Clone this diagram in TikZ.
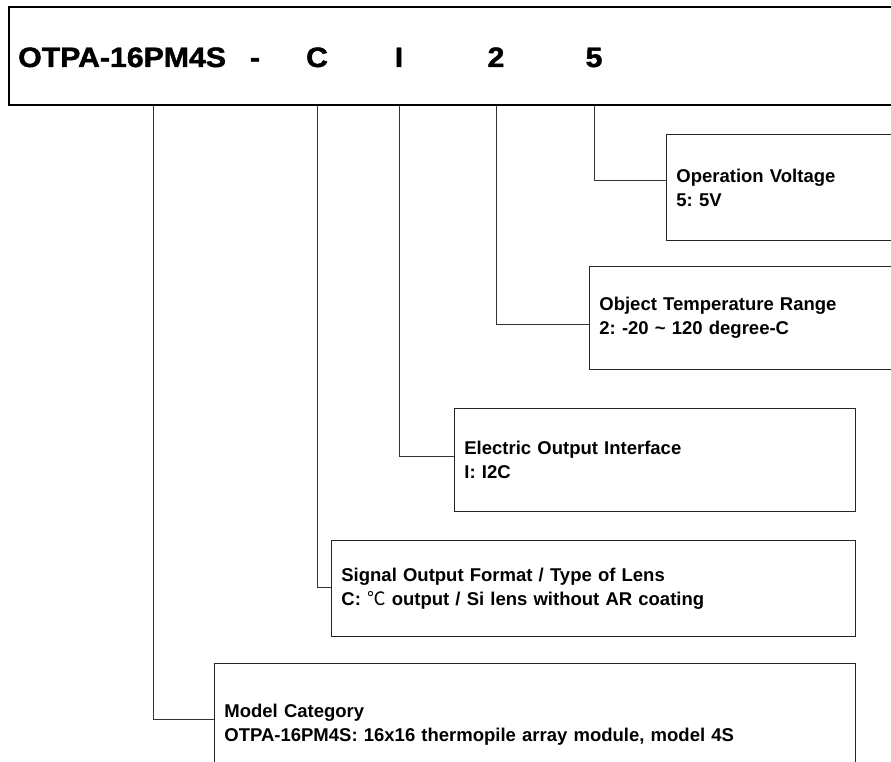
\documentclass[tikz,border=0pt]{standalone}
\usepackage{fontspec}
\setmainfont{Liberation Sans}
\newfontfamily\cjk{Noto Sans CJK SC}
\newfontfamily\codefont[FakeBold=1.6,FakeStretch=1.08]{Liberation Sans Bold}
\usetikzlibrary{positioning}

\begin{document}
\frenchspacing
\begin{tikzpicture}[x=1pt,y=-1pt,
  box/.style={draw=black!85,line width=0.8pt,anchor=north west,align=left,
    inner xsep=10pt,inner ysep=0pt,font=\bfseries\fontsize{18.5}{24}\selectfont},
  code/.style={anchor=base,inner sep=0pt,font=\codefont\fontsize{28}{28}\selectfont},
  link/.style={draw=black!80,line width=0.8pt}]
\useasboundingbox (0,0) rectangle (891,762);
\clip (0,0) rectangle (891,762);

\node[draw,line width=1.6pt,anchor=north west,minimum width=900pt,minimum height=98pt] (frame) at (8,6) {};
\node[code,anchor=base west] (model) at (18,67) {OTPA-16PM4S};
\node[code] (dash) at (255,67) {-};
\node[code] (fmt) at (317,67) {C};
\node[code] (intf) at (399,67) {I};
\node[code] (range) at (496,67) {2};
\node[code] (volt) at (594,67) {5};
\coordinate (mtap) at (153,0);

\node[box,text width=214pt,minimum height=106pt] (voltbox) at (666,134)
  {Operation Voltage\\5: 5V};
\node[box,text width=291pt,minimum height=103pt] (rangebox) at (589,266)
  {Object Temperature Range\\2: -20 \textasciitilde{} 120 degree-C};
\node[box,text width=381pt,minimum height=103pt] (intfbox) at (454,408)
  {Electric Output Interface\\I: I2C};
\node[box,text width=504pt,minimum height=96pt] (fmtbox) at (331,540)
  {Signal Output Format / Type of Lens\\C: {\cjk\mdseries ℃} output / Si lens without AR coating};
\node[box,text width=621pt,minimum height=122pt] (modelbox) at (214,663)
  {Model Category\\OTPA-16PM4S: 16x16 thermopile array module, model 4S};

\draw[link] (volt |- frame.south) |- (voltbox.west |- 0,180);
\draw[link] (range |- frame.south) |- (rangebox.west |- 0,324);
\draw[link] (intf |- frame.south) |- (intfbox.west |- 0,456);
\draw[link] (fmt |- frame.south) |- (fmtbox.west |- 0,587);
\draw[link] (mtap |- frame.south) |- (modelbox.west |- 0,719);
\end{tikzpicture}
\end{document}
